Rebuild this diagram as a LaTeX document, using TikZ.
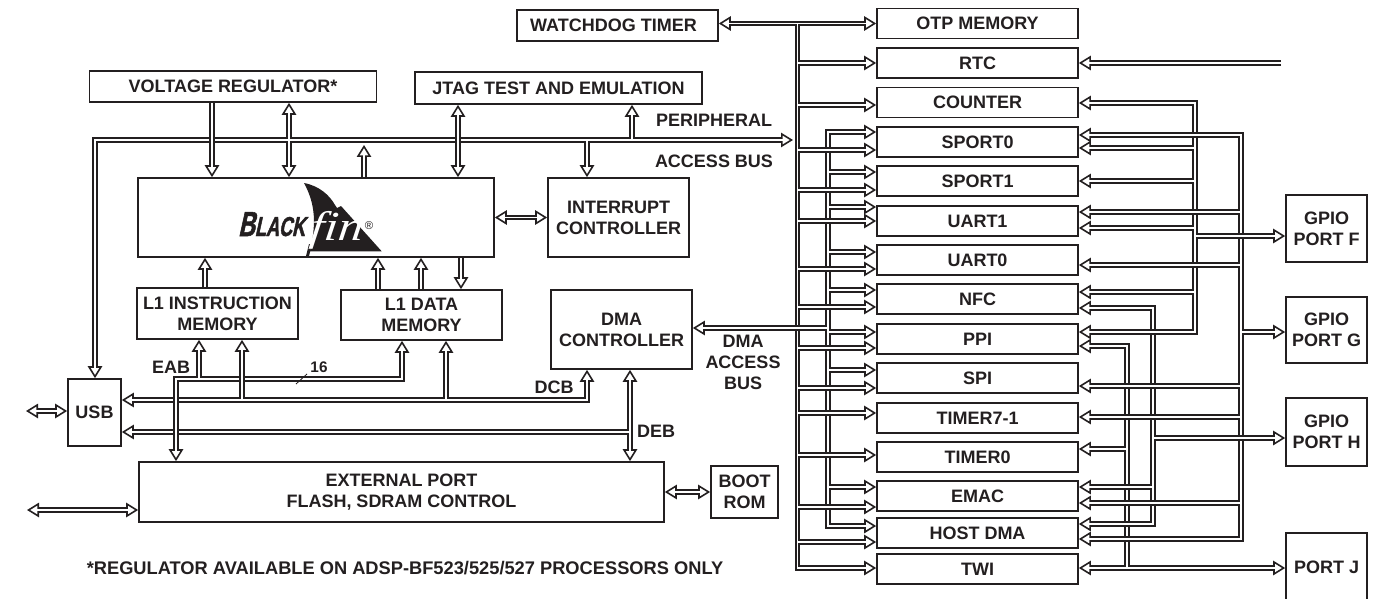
\documentclass[tikz,border=0pt]{standalone}
\usepackage{fontspec}
\setmainfont{Liberation Sans}
\newfontfamily\finfont{Liberation Serif}[FakeStretch=1.2,FakeSlant=0.12]
\newfontfamily\blackfont{Liberation Sans}[FakeStretch=0.66,FakeSlant=0.22,FakeBold=1.6]
\usetikzlibrary{arrows.meta}
\definecolor{bfInk}{HTML}{231F20}
\tikzset{
  BusHead/.tip={Triangle[open,fill=white,length=9pt,width=10.8pt,line width=1.2pt]},
  block/.style={draw=bfInk, line width=1.25pt, fill=white, align=center, inner sep=0pt},
  boxsize/.style 2 args={minimum width=#1*0.75pt, minimum height=#2*0.75pt},
  periph box/.style={block, boxsize={201}{30}},
  bus label/.style={align=center, inner sep=0pt},
  % from a box edge to a box edge
  bus to/.style={preaction={draw=bfInk, line width=4pt, -BusHead, shorten >=0pt},
    draw=white, line width=1.4pt, shorten >=5pt},
  % starts on the middle of another bus, so its walls stop short
  bus tap/.style={preaction={draw=bfInk, line width=4pt, -BusHead, shorten >=0pt, shorten <=0.7pt},
    draw=white, line width=1.4pt, shorten >=5pt},
  bus both/.style={preaction={draw=bfInk, line width=4pt, BusHead-BusHead, shorten >=0pt, shorten <=0pt},
    draw=white, line width=1.4pt, shorten >=5pt, shorten <=5pt}
}

\begin{document}
\begin{tikzpicture}[x=0.75pt,y=-0.75pt,text=bfInk,
    font=\bfseries\fontsize{13.5}{15.75}\selectfont]
  \useasboundingbox (0,0) rectangle (1380,599);

  % core side
  \node[block,boxsize={201}{31}] (WDT) at (617.5,25.5) {WATCHDOG TIMER\hspace*{6pt}};
  \node[block,boxsize={287}{31}] (VReg) at (233,86.5) {VOLTAGE REGULATOR*};
  \node[block,boxsize={287}{32}] (JTAG) at (558.5,88) {JTAG TEST AND EMULATION};
  \node[block,boxsize={356}{79}] (Core) at (316,217.5) {};
  \node[block,boxsize={141}{79}] (IRQ) at (618.5,217.5) {INTERRUPT\\CONTROLLER};
  \node[block,boxsize={161}{51}] (L1I) at (217.5,313.5) {L1 INSTRUCTION\\MEMORY};
  \node[block,boxsize={161}{50}] (L1D) at (421.5,315) {L1 DATA\\MEMORY};
  \node[block,boxsize={141}{79}] (DMA) at (621.5,329.5) {DMA\\CONTROLLER};
  \node[block,boxsize={53}{67}] (USB) at (94.5,412.5) {USB};
  \node[block,boxsize={525}{60}] (EXT) at (401.5,492) {EXTERNAL PORT\\FLASH, SDRAM CONTROL};
  \node[block,boxsize={67}{52}] (BOOT) at (744.5,492) {BOOT\\ROM};

  % peripherals
  \foreach \name/\ypos/\txt in {OTP/23.5/OTP MEMORY,RTC/63/RTC,COUNTER/102.5/COUNTER,
      SPORT0/142/SPORT0,SPORT1/181/SPORT1,UART1/221/UART1,UART0/260/UART0,NFC/299/NFC,
      PPI/339/PPI,SPI/378/SPI,TIMER71/418/TIMER7-1,TIMER0/457/TIMER0,EMAC/496/EMAC,
      HOST/533/HOST DMA,TWI/569/TWI}
    \node[periph box] (\name) at (977.5,\ypos) {\txt};

  % ports
  \node[block,boxsize={81}{67}] (GPIOF) at (1326.5,228.5) {GPIO\\PORT F};
  \node[block,boxsize={81}{66}] (GPIOG) at (1326.5,330) {GPIO\\PORT G};
  \node[block,boxsize={81}{68}] (GPIOH) at (1326.5,432) {GPIO\\PORT H};
  \node[block,boxsize={81}{72}] (PORTJ) at (1326.5,569) {\raisebox{2pt}{PORT J}};

  % labels
  \node[bus label] (periLabel) at (714,120) {PERIPHERAL};
  \node[bus label] (accessLabel) at (714,161) {ACCESS BUS};
  \node[bus label] (dmaLabel) at (743,362.5) {DMA\\ACCESS\\BUS};
  \node[bus label] (eabLabel) at (171,367) {EAB};
  \node[bus label] (dcbLabel) at (554,387) {DCB};
  \node[bus label] (debLabel) at (656,431) {DEB};
  \node[bus label,font=\bfseries\fontsize{11.5}{14}\selectfont] (widthLabel) at (319,367) {16};
  \node[bus label,font=\bfseries\fontsize{13.7}{15.75}\selectfont] (noteLabel) at (405,568.5)
    {*REGULATOR AVAILABLE ON ADSP-BF523/525/527 PROCESSORS ONLY};

  % logo
  \fill[bfInk] (304,183) .. controls (320,186) and (330,196) .. (335,205) -- (337,208) -- (341,206)
    -- (381.7,251.3) -- (310,251.3) .. controls (316,225) and (316,205) .. (304,183) -- cycle;
  \fill[bfInk] (306,256) -- (309,244) -- (312,244) -- (309,256) -- cycle;
  \node[inner sep=0pt,anchor=base west,font=\blackfont\bfseries] (bfName) at (238,236)
    {\fontsize{26}{26}\selectfont B\fontsize{20.5}{20}\selectfont LACK};
  \node[inner sep=0pt,anchor=base,text=white,font=\finfont\itshape\fontsize{31}{31}\selectfont] (bfFin) at (336,240) {f{}i{}n};
  \node[inner sep=0pt,font=\mdseries\fontsize{8.5}{8}\selectfont] (bfMark) at (369,226) {®};

  % peripheral access bus
  \coordinate (pabCorner) at (95,140);
  \coordinate (pabTip) at (793,140);
  \draw[bus both] (pabTip) -- (pabCorner) -- (pabCorner |- USB.north);
  \draw[bus both] (289,0 |- VReg.south) -- (289,0 |- Core.north);
  \draw[draw=white,line width=1.4pt] (280,140) -- (298,140);
  \draw[bus to] (212,0 |- VReg.south) -- (212,0 |- Core.north);
  \draw[bus to] (364,0 |- Core.north) -- (364,145);
  \draw[bus both] (458,0 |- JTAG.south) -- (458,0 |- Core.north);
  \draw[bus tap] (632,140) -- (632,0 |- JTAG.south);
  \draw[bus tap] (587,140) -- (587,0 |- IRQ.north);

  % core to memories
  \draw[bus both] (Core.east) -- (IRQ.west);
  \draw[bus to] (205,0 |- L1I.north) -- (205,0 |- Core.south);
  \draw[bus to] (378,0 |- L1D.north) -- (378,0 |- Core.south);
  \draw[bus to] (421,0 |- L1D.north) -- (421,0 |- Core.south);
  \draw[bus to] (461,0 |- Core.south) -- (461,0 |- L1D.north);

  % DCB, DEB, EAB
  \draw[bus both] (USB.east |- 0,400) -- (587,400) -- (587,0 |- DMA.south);
  \draw[bus both] (630,0 |- DMA.south) -- (630,0 |- EXT.north);
  \draw[bus tap] (630,432) -- (USB.east |- 0,432);
  \draw[bus both] (176,0 |- EXT.north) -- (176,379) -- (402,379) -- (402,0 |- L1D.south);
  \draw[bus tap] (242,400) -- (242,0 |- L1I.south);
  \draw[bus tap] (446,400) -- (446,0 |- L1D.south);
  \draw[bus tap] (199,379) -- (199,0 |- L1I.south);
  \draw[bfInk,line width=0.6pt] (296,384) -- (307,374);

  % outside the chip
  \coordinate (usbOut) at (26,411);
  \coordinate (extOut) at (27,510);
  \draw[bus both] (usbOut) -- (USB.west |- usbOut);
  \draw[bus both] (extOut) -- (EXT.west |- extOut);
  \draw[bus both] (EXT.east) -- (BOOT.west);

  % DMA trunk to the peripherals
  \coordinate (dmaTrunk) at (828,0);
  \draw[bus both] (0,132 -| SPORT0.west) -- (0,132 -| dmaTrunk) -- (0,526 -| dmaTrunk) -- (0,526 -| HOST.west);
  \foreach \name/\ypos in {SPORT1/172,UART1/207,UART0/252,NFC/290,PPI/332,SPI/370,EMAC/487}
    \draw[bus tap] (0,\ypos -| dmaTrunk) -- (0,\ypos -| \name.west);

  % peripheral trunk
  \coordinate (periTrunk) at (797.5,0);
  \draw[bus both] (WDT.east |- OTP.west) -- (OTP.west);
  \draw[bus tap] (periTrunk |- OTP.west) -- (0,568 -| periTrunk) -- (0,568 -| TWI.west);
  \foreach \name/\ypos in {RTC/63,COUNTER/105,SPORT0/150,SPORT1/190,UART1/221,UART0/269,NFC/307,
      PPI/348,SPI/388,TIMER71/413,TIMER0/455,EMAC/507,HOST/542}
    \draw[bus tap] (0,\ypos -| periTrunk) -- (0,\ypos -| \name.west);
  \draw[bus tap] (0,328 -| dmaTrunk) -- (0,328 -| DMA.east);

  % pins side, trunks from the left
  \coordinate (rtcIn) at (1281,63);
  \draw[bus to] (rtcIn) -- (RTC.east |- rtcIn);
  \coordinate (pinD) at (1127,0);
  \coordinate (pinC) at (1153,0);
  \coordinate (pinA) at (1195,0);
  \coordinate (pinB) at (1241,0);

  \draw[bus both] (0,568 -| TWI.east) -- (0,568 -| PORTJ.west);
  \draw[bus tap] (0,568 -| pinD) -- (0,346 -| pinD) -- (0,346 -| PPI.east);
  \draw[bus tap] (0,449 -| pinD) -- (0,449 -| TIMER0.east);

  \draw[bus both] (0,308 -| NFC.east) -- (0,308 -| pinC) -- (0,524 -| pinC) -- (0,524 -| HOST.east);
  \draw[bus tap] (0,487 -| pinC) -- (0,487 -| EMAC.east);

  \draw[bus both] (0,103 -| COUNTER.east) -- (0,103 -| pinA) -- (0,332 -| pinA) -- (0,332 -| PPI.east);
  \foreach \name/\ypos in {SPORT0/148,SPORT1/181,UART1/228,NFC/292}
    \draw[bus tap] (0,\ypos -| pinA) -- (0,\ypos -| \name.east);

  \draw[bus both] (0,135 -| SPORT0.east) -- (0,135 -| pinB) -- (0,539 -| pinB) -- (0,539 -| HOST.east);
  \foreach \name/\ypos in {UART1/212,UART0/265,SPI/386,TIMER71/417,EMAC/503}
    \draw[bus tap] (0,\ypos -| pinB) -- (0,\ypos -| \name.east);

  \draw[bus tap] (0,236 -| pinA) -- (0,236 -| GPIOF.west);
  \draw[bus tap] (0,332 -| pinB) -- (0,332 -| GPIOG.west);
  \draw[bus tap] (0,438 -| pinC) -- (0,438 -| GPIOH.west);
\end{tikzpicture}
\end{document}
